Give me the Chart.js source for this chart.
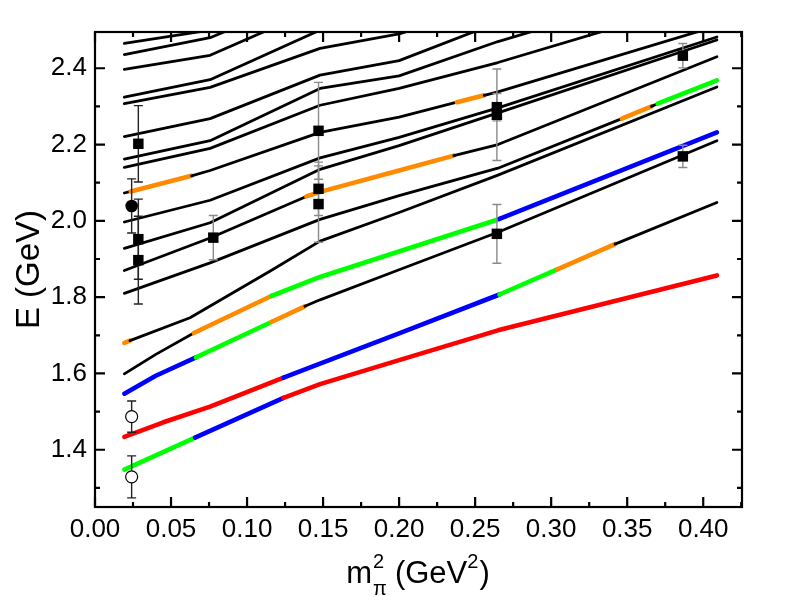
<!DOCTYPE html>
<html><head><meta charset="utf-8">
<script src="https://cdn.jsdelivr.net/npm/chart.js@4.4.1/dist/chart.umd.min.js"></script>
<style>html,body{margin:0;padding:0;background:#fff;}canvas{display:block;}</style>
</head><body>
<canvas id="c" width="796" height="611"></canvas>
<script>
// ---------- tick labels ----------
const xTicks = [0.00,0.05,0.10,0.15,0.20,0.25,0.30,0.35,0.40];
const yTicks = [1.4,1.6,1.8,2.0,2.2,2.4];

// ---------- energy levels (x = m_pi^2, y = E) ; segment colour codes ----------
const L1x = [0.0193,0.0658,0.124,0.148,0.2,0.265,0.409];
const L1y = [1.348,1.432,1.536,1.572,1.635,1.713,1.857];
const L1c = 'gbrrrr';
const L2x = [0.0193,0.045,0.0757,0.124,0.148,0.2,0.266,0.304,0.342,0.409];
const L2y = [1.434,1.472,1.513,1.589,1.626,1.705,1.807,1.873,1.939,2.048];
const L2c = 'rrrbbbgok';
const L3x = [0.0193,0.04,0.0664,0.116,0.138,0.148,0.2,0.265,0.409];
const L3y = [1.547,1.594,1.642,1.735,1.776,1.793,1.872,1.970,2.21];
const L3c = 'bbgokkkk';
const L4x = [0.0193,0.04,0.065,0.116,0.148,0.266,0.409];
const L4y = [1.599,1.650,1.706,1.803,1.853,2.005,2.232];
const L4c = 'kkoggb';
const L5x = [0.0193,0.023,0.0625,0.115,0.148,0.2,0.265,0.409];
const L5y = [1.680,1.686,1.746,1.868,1.947,2.022,2.12,2.351];
const L5c = 'okkkkkk';
const L6x = [0.0193,0.0757,0.148,0.2,0.265,0.3465,0.366,0.370,0.409];
const L6y = [1.810,1.890,2.004,2.066,2.138,2.268,2.300,2.307,2.368];
const L6c = 'kkkkkokg';
const L7x = [0.0193,0.0757,0.139,0.148,0.2,0.236,0.265,0.409];
const L7y = [1.870,1.955,2.064,2.076,2.132,2.171,2.20,2.430];
const L7c = 'kkoookk';
const L10x = [0.0193,0.0235,0.0635,0.0757,0.148,0.2,0.238,0.256,0.265,0.409];
const L10y = [2.073,2.077,2.118,2.132,2.232,2.272,2.311,2.329,2.338,2.511];
const L10c = 'kokkkkokk';
const upX  = [0.0193,0.0757,0.148,0.2,0.265,0.409];
const L8y  = [1.928,1.995,2.135,2.197,2.283,2.474];
const L9y  = [1.997,2.054,2.165,2.219,2.296,2.482];
const L11y = [2.140,2.19,2.303,2.347,2.415,2.586];
const L12y = [2.162,2.21,2.347,2.38,2.47,2.64];
const L13y = [2.221,2.268,2.382,2.42,2.52,2.70];
const L14y = [2.307,2.35,2.452,2.49,2.57,2.75];
const L15y = [2.324,2.37,2.50,2.55,2.63,2.80];
const L16y = [2.397,2.434,2.56,2.61,2.69,2.85];
const L17y = [2.436,2.48,2.60,2.65,2.73,2.90];
const L18y = [2.465,2.50,2.62,2.67,2.75,2.92];

// ---------- lattice data points ----------
const sqX   = [0.0285,0.0285,0.0285,0.0778,0.147,0.147,0.147,0.2643,0.2643,0.2643,0.3866,0.3866];
const sqY   = [2.202,1.952,1.897,1.956,2.236,2.084,2.044,2.298,2.278,1.966,2.433,2.169];
const sqErr = [0.10,0.105,0.115,0.058,0.127,0.07,0.10,0.036,0.12,0.077,0.032,0.029];
const fcX = [0.0241], fcY = [2.039], fcErr = [0.071];
const ocX = [0.0241,0.0241], ocY = [1.487,1.329], ocErr = [0.041,0.055];

const pal = {k:'#000000', r:'#ff0000', b:'#0000ff', g:'#00ff00', o:'#ff8a00'};
const FONT = "'Liberation Sans', Arial, Helvetica, sans-serif";

function lineSet(xs, ys, codes){
  const cs = codes || 'k'.repeat(xs.length-1);
  return {
    type:'line', order:2,
    data: xs.map((x,i)=>({x:x,y:ys[i]})),
    borderColor:'#000', borderWidth:2.8, pointRadius:0, tension:0, clip:0,
    borderCapStyle:'round', borderJoinStyle:'round',
    segment:{
      borderColor: c => pal[cs[c.p0DataIndex]],
      borderWidth: c => cs[c.p0DataIndex]==='k' ? 2.8 : 4.6
    }
  };
}
const pts = (xs,ys)=>xs.map((x,i)=>({x:x,y:ys[i]}));

const datasets = [
  {type:'scatter', order:0, isMarker:true, data:pts(sqX,sqY), pointStyle:'rect', pointRadius:7.4,
   backgroundColor:'#000', borderColor:'#000', borderWidth:0},
  {type:'scatter', order:0, isMarker:true, data:pts(fcX,fcY), pointStyle:'circle', pointRadius:6.3,
   backgroundColor:'#000', borderColor:'#000', borderWidth:0},
  {type:'scatter', order:0, isMarker:true, data:pts(ocX,ocY), pointStyle:'circle', pointRadius:6,
   backgroundColor:'#fff', borderColor:'#000', borderWidth:1.2},
  lineSet(upX,L18y), lineSet(upX,L17y), lineSet(upX,L16y), lineSet(upX,L15y),
  lineSet(upX,L14y), lineSet(upX,L13y), lineSet(upX,L12y), lineSet(upX,L11y),
  lineSet(upX,L9y), lineSet(upX,L8y),
  lineSet(L10x,L10y,L10c), lineSet(L7x,L7y,L7c), lineSet(L6x,L6y,L6c), lineSet(L5x,L5y,L5c),
  lineSet(L4x,L4y,L4c), lineSet(L3x,L3y,L3c), lineSet(L2x,L2y,L2c), lineSet(L1x,L1y,L1c)
];

let barsDone = false;
const errPlugin = {
  id:'errbars',
  beforeDraw(){ barsDone = false; },
  beforeDatasetDraw(chart, args){
    if (barsDone || !chart.data.datasets[args.index].isMarker) return;
    barsDone = true;
    const {ctx, scales:{x,y}} = chart;
    const draw = (xs,ys,es)=>xs.forEach((v,i)=>{
      const px = x.getPixelForValue(v);
      const t = y.getPixelForValue(ys[i]+es[i]), b = y.getPixelForValue(ys[i]-es[i]);
      ctx.strokeStyle = v < 0.05 ? '#222' : '#8a8a8a';
      ctx.lineWidth = 1.4;
      ctx.beginPath();
      ctx.moveTo(px,t); ctx.lineTo(px,b);
      ctx.moveTo(px-4.5,t); ctx.lineTo(px+4.5,t);
      ctx.moveTo(px-4.5,b); ctx.lineTo(px+4.5,b);
      ctx.stroke();
    });
    ctx.save();
    draw(sqX,sqY,sqErr); draw(fcX,fcY,fcErr); draw(ocX,ocY,ocErr);
    ctx.restore();
  }
};

const framePlugin = {
  id:'frame',
  afterDatasetsDraw(chart){
    const {ctx, chartArea:a, scales:{x,y}} = chart;
    ctx.save();
    ctx.strokeStyle='#000'; ctx.lineWidth=2.2; ctx.lineCap='butt';
    ctx.strokeRect(a.left, a.top, a.right-a.left, a.bottom-a.top);
    ctx.beginPath();
    const xt = (v,len)=>{const p=x.getPixelForValue(v);
      ctx.moveTo(p,a.bottom); ctx.lineTo(p,a.bottom-len); ctx.moveTo(p,a.top); ctx.lineTo(p,a.top+len);};
    const yt = (v,len)=>{const p=y.getPixelForValue(v);
      ctx.moveTo(a.left,p); ctx.lineTo(a.left+len,p); ctx.moveTo(a.right,p); ctx.lineTo(a.right-len,p);};
    xTicks.forEach(v=>xt(v,10));
    for (let v=0.025; v<x.max; v+=0.05) xt(v,5);
    yTicks.forEach(v=>yt(v,10));
    for (let v=1.3; v<y.max; v+=0.2) yt(v,5);
    ctx.stroke();
    ctx.restore();
  },
  afterDraw(chart){
    const ctx = chart.ctx;
    ctx.save();
    ctx.fillStyle='#000'; ctx.textBaseline='alphabetic';
    const big = '31px '+FONT, small='20px '+FONT;
    const base = 583;
    ctx.font = big; const wm = ctx.measureText('m').width;
    const wg = ctx.measureText('(GeV').width, wp = ctx.measureText(')').width;
    ctx.font = small; const w2 = ctx.measureText('2').width, wpi = ctx.measureText('\u03c0').width;
    const total = wm + Math.max(w2,wpi) + 9 + wg + w2 + 1 + wp;
    let cx = 418 - total/2;
    ctx.font = big; ctx.fillText('m', cx, base); cx += wm + 1;
    ctx.font = small; ctx.fillText('2', cx, base-15); ctx.fillText('\u03c0', cx, base+12);
    cx += Math.max(w2,wpi) + 8;
    ctx.font = big; ctx.fillText('(GeV', cx, base); cx += wg;
    ctx.font = small; ctx.fillText('2', cx, base-15); cx += w2 + 1;
    ctx.font = big; ctx.fillText(')', cx, base);
    ctx.restore();
  }
};

new Chart(document.getElementById('c'), {
  data:{datasets},
  options:{
    responsive:false, animation:false, devicePixelRatio:1,
    layout:{padding:{top:32, right:54, left:0, bottom:0}},
    plugins:{legend:{display:false}, tooltip:{enabled:false}},
    scales:{
      x:{type:'linear', min:0, max:0.4255,
        afterBuildTicks: s => { s.ticks = xTicks.map(v=>({value:v})); },
        afterFit: s => { s.height = 104; },
        grid:{display:false, drawTicks:false}, border:{display:false},
        ticks:{callback:v=>v.toFixed(2), font:{family:FONT,size:26}, color:'#000', padding:7, maxRotation:0, autoSkip:false}},
      y:{type:'linear', min:1.25, max:2.495,
        afterBuildTicks: s => { s.ticks = yTicks.map(v=>({value:v})); },
        afterFit: s => { s.width = 95; },
        grid:{display:false, drawTicks:false}, border:{display:false},
        title:{display:true, text:'E (GeV)', font:{family:FONT,size:33}, color:'#000', padding:{top:10,bottom:0}},
        ticks:{callback:v=>v.toFixed(1), font:{family:FONT,size:26}, color:'#000', padding:8, autoSkip:false}}
    }
  },
  plugins:[errPlugin, framePlugin]
});
</script>
</body></html>
